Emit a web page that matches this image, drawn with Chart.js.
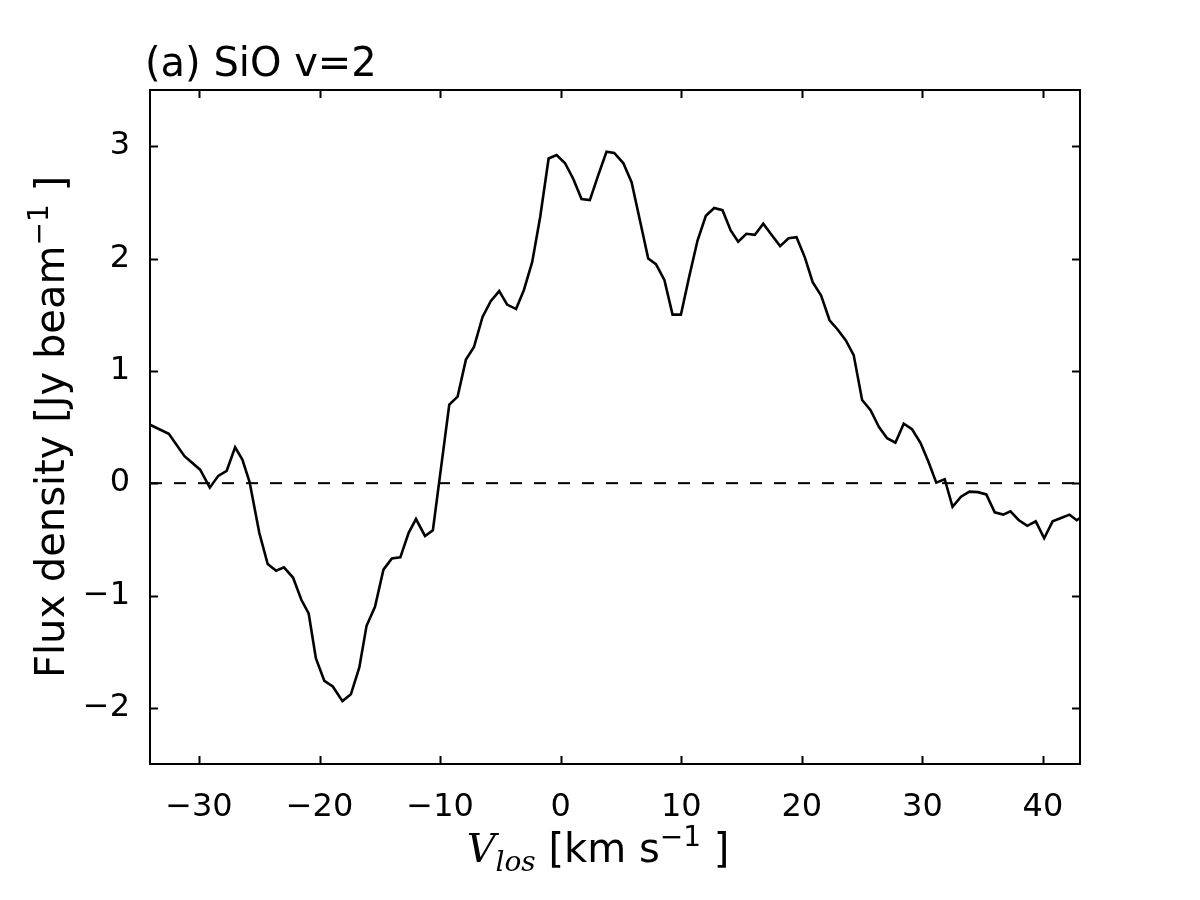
<!DOCTYPE html>
<html>
<head>
<meta charset="utf-8">
<script src="https://cdn.jsdelivr.net/npm/chart.js@4.4.1/dist/chart.umd.min.js"></script>
<style>
  html, body { margin: 0; padding: 0; background: #fff; }
  canvas { display: block; }
</style>
</head>
<body>
<canvas id="spectrumChart" width="1200" height="900"></canvas>
<script>
// SiO v=2 spectrum
const velocity = [
  -34.06, -32.5, -31.2, -29.9, -29.1, -28.4, -27.7, -27.0, -26.4, -25.8,
  -25.0, -24.3, -23.6, -22.95, -22.2, -21.5, -20.9, -20.3, -19.6, -18.9,
  -18.1, -17.4, -16.7, -16.1, -15.4, -14.7, -14.0, -13.3, -12.6, -12.0,
  -11.25, -10.6, -9.24, -8.55, -7.86, -7.2, -6.48, -5.8, -5.1, -4.44,
  -3.7, -3.05, -2.36, -1.7, -1.0, -0.34, 0.35, 1.04, 1.73, 2.42,
  3.11, 3.8, 4.44, 5.19, 5.88, 6.57, 7.26, 7.9, 8.6, 9.28,
  9.97, 10.66, 11.35, 12.04, 12.73, 13.42, 14.1, 14.72, 15.4, 16.1,
  16.8, 17.5, 18.2, 18.9, 19.56, 20.25, 20.9, 21.6, 22.3, 22.95,
  23.65, 24.3, 25.0, 25.7, 26.4, 27.07, 27.76, 28.45, 29.14, 29.84,
  30.5, 31.15, 31.85, 32.5, 33.2, 33.9, 34.6, 35.3, 36.0, 36.7,
  37.3, 38.0, 38.7, 39.4, 40.1, 40.8, 41.5, 42.2, 42.8, 43.07
];
const flux = [
  0.52, 0.44, 0.24, 0.12, -0.04, 0.065, 0.11, 0.32, 0.21, 0.01,
  -0.44, -0.72, -0.78, -0.75, -0.84, -1.04, -1.16, -1.56, -1.76, -1.81,
  -1.94, -1.88, -1.64, -1.27, -1.10, -0.77, -0.67, -0.66, -0.44, -0.32,
  -0.47, -0.42, 0.70, 0.77, 1.10, 1.21, 1.48, 1.62, 1.71, 1.59,
  1.55, 1.72, 1.97, 2.37, 2.89, 2.92, 2.85, 2.71, 2.53, 2.52,
  2.74, 2.95, 2.94, 2.85, 2.68, 2.34, 2.00, 1.95, 1.81, 1.50,
  1.50, 1.84, 2.16, 2.38, 2.45, 2.43, 2.25, 2.15, 2.22, 2.21,
  2.31, 2.21, 2.11, 2.18, 2.19, 2.01, 1.79, 1.67, 1.45, 1.37,
  1.27, 1.14, 0.74, 0.65, 0.50, 0.40, 0.36, 0.53, 0.48, 0.36,
  0.19, 0.005, 0.035, -0.21, -0.12, -0.075, -0.08, -0.10, -0.26, -0.28,
  -0.25, -0.33, -0.38, -0.34, -0.49, -0.34, -0.31, -0.28, -0.33, -0.31
];
const xTicks = [-30, -20, -10, 0, 10, 20, 30, 40];
const yTicks = [-2, -1, 0, 1, 2, 3];
const xRange = [-34.06, 43.07];
const yRange = [-2.5, 3.5];

const sans = "'DejaVu Sans', sans-serif";
const serif = "'DejaVu Serif', serif";

const spectrumPoints = velocity.map((v, i) => ({ x: v, y: flux[i] }));
const zeroLine = xRange.map((v) => ({ x: v, y: 0 }));

function minusSign(value) {
  return String(value).replace('-', '\u2212');
}

// draw a run of text pieces (font + vertical shift) one after another
function drawRun(ctx, pieces, startX, baseY) {
  let x = startX;
  pieces.forEach((p) => {
    ctx.font = p.font;
    ctx.fillText(p.text, x, baseY + (p.dy || 0));
    x += ctx.measureText(p.text).width;
  });
}
function runWidth(ctx, pieces) {
  let w = 0;
  pieces.forEach((p) => {
    ctx.font = p.font;
    w += ctx.measureText(p.text).width;
  });
  return w;
}

// frame, inward ticks on all four sides, titles with sub/superscripts
const framePlugin = {
  id: 'frame',
  afterDraw(chart) {
    const { ctx, chartArea: a, scales } = chart;
    const tickLen = 8;
    ctx.save();
    ctx.strokeStyle = '#000';
    ctx.lineWidth = 2;
    ctx.strokeRect(a.left, a.top, a.right - a.left, a.bottom - a.top);
    ctx.beginPath();
    xTicks.forEach((t) => {
      const px = Math.round(scales.x.getPixelForValue(t)) + 0.5;
      ctx.moveTo(px, a.bottom); ctx.lineTo(px, a.bottom - tickLen);
      ctx.moveTo(px, a.top); ctx.lineTo(px, a.top + tickLen);
    });
    yTicks.forEach((t) => {
      const py = Math.round(scales.y.getPixelForValue(t)) + 0.5;
      ctx.moveTo(a.left, py); ctx.lineTo(a.left + tickLen, py);
      ctx.moveTo(a.right, py); ctx.lineTo(a.right - tickLen, py);
    });
    ctx.stroke();

    ctx.fillStyle = '#000';
    ctx.textBaseline = 'alphabetic';
    ctx.textAlign = 'left';

    // panel title
    ctx.font = '40px ' + sans;
    ctx.fillText('(a) SiO v=2', 145, 76);

    // x axis title
    const xPieces = [
      { text: 'V', font: 'italic 40px ' + serif },
      { text: 'los', font: 'italic 28px ' + serif, dy: 9 },
      { text: ' [km s', font: '40px ' + sans },
      { text: '\u22121', font: '28px ' + sans, dy: -16 },
      { text: ' ]', font: '40px ' + sans },
    ];
    const xw = runWidth(ctx, xPieces);
    drawRun(ctx, xPieces, 598 - xw / 2, 862);

    // y axis title, rotated
    const yPieces = [
      { text: 'Flux density [Jy beam', font: '40px ' + sans },
      { text: '\u22121', font: '28px ' + sans, dy: -16 },
      { text: ' ]', font: '40px ' + sans },
    ];
    const yw = runWidth(ctx, yPieces);
    ctx.translate(64, (a.top + a.bottom) / 2);
    ctx.rotate(-Math.PI / 2);
    drawRun(ctx, yPieces, -yw / 2, 0);
    ctx.restore();
  },
};

new Chart(document.getElementById('spectrumChart'), {
  type: 'line',
  data: {
    datasets: [
      {
        data: zeroLine,
        borderColor: '#000',
        borderWidth: 2,
        borderDash: [12, 12],
        pointRadius: 0,
        tension: 0,
      },
      {
        data: spectrumPoints,
        borderColor: '#000',
        borderWidth: 2.6,
        pointRadius: 0,
        tension: 0,
      },
    ],
  },
  options: {
    responsive: false,
    animation: false,
    devicePixelRatio: 1,
    layout: { padding: { left: 0, right: 120, top: 90, bottom: 0 } },
    plugins: {
      legend: { display: false },
      tooltip: { enabled: false },
      title: { display: false },
    },
    scales: {
      x: {
        type: 'linear',
        min: xRange[0],
        max: xRange[1],
        afterBuildTicks: (s) => { s.ticks = xTicks.map((v) => ({ value: v })); },
        afterFit: (s) => { s.height = 136; },
        grid: { display: false, drawTicks: false },
        border: { display: false },
        ticks: {
          color: '#000',
          padding: 24,
          maxRotation: 0,
          font: { family: sans, size: 32 },
          callback: (v) => minusSign(v),
        },
      },
      y: {
        type: 'linear',
        min: yRange[0],
        max: yRange[1],
        afterBuildTicks: (s) => { s.ticks = yTicks.map((v) => ({ value: v })); },
        afterFit: (s) => { s.width = 150; },
        grid: { display: false, drawTicks: false },
        border: { display: false },
        ticks: {
          color: '#000',
          padding: 20,
          font: { family: sans, size: 32 },
          callback: (v) => minusSign(v),
        },
      },
    },
  },
  plugins: [framePlugin],
});
</script>
</body>
</html>
